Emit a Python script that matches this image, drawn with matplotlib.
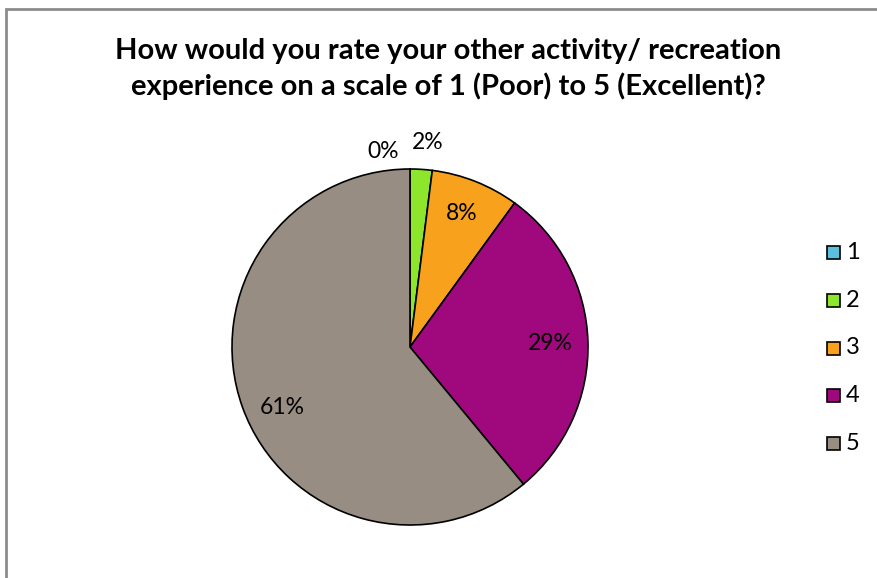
import matplotlib.pyplot as plt
from matplotlib.patches import Rectangle

# Rating survey results
ratings = ["1", "2", "3", "4", "5"]
shares = [0, 2, 8, 29, 61]
colors = ["#5bc0de", "#8ee62c", "#f7a11c", "#a0097e", "#978d82"]
label_pos = [(-0.15, 1.10), (0.10, 1.15), (0.29, 0.75), (0.79, 0.02), (-0.72, -0.34)]

plt.rcParams['font.family'] = ['Lato', 'DejaVu Sans']

fig = plt.figure(figsize=(8.77, 5.78), dpi=100)
fig.patch.set_facecolor("white")

# chart frame (only left and top edges are visible)
fig.add_artist(Rectangle((6 / 877, -0.1), 2, 1.1 - 9 / 578, transform=fig.transFigure,
                         fill=False, edgecolor="#8c8c8c", linewidth=2))

fig.text(448 / 877, 1 - 69 / 578,
         "How would you rate your other activity/ recreation\nexperience on a scale of 1 (Poor) to 5 (Excellent)?",
         ha="center", va="center", fontsize=21, fontweight="bold", linespacing=1.38)

r_px = 178
ax = fig.add_axes([(410 - r_px) / 877, 1 - (347 + r_px) / 578, 2 * r_px / 877, 2 * r_px / 578])
wedges, _ = ax.pie(shares, colors=colors, startangle=90, counterclock=False,
                   wedgeprops=dict(edgecolor="black", linewidth=1.2))
ax.set_xlim(-1, 1)
ax.set_ylim(-1, 1)
ax.set_aspect("equal")

for val, (x, y) in zip(shares, label_pos):
    ax.text(x, y, f"{val}%", ha="center", va="center", fontsize=16.5, color="black")

# legend on the right
for i, (name, c) in enumerate(zip(ratings, colors)):
    y = 1 - (253 + i * 47.5) / 578
    fig.add_artist(Rectangle((827 / 877, y - 6.5 / 578), 13 / 877, 13 / 578, transform=fig.transFigure,
                             facecolor=c, edgecolor="black", linewidth=1.2))
    fig.text(846 / 877, y, name, ha="left", va="center", fontsize=17)

fig.savefig("out.png", dpi=100)
